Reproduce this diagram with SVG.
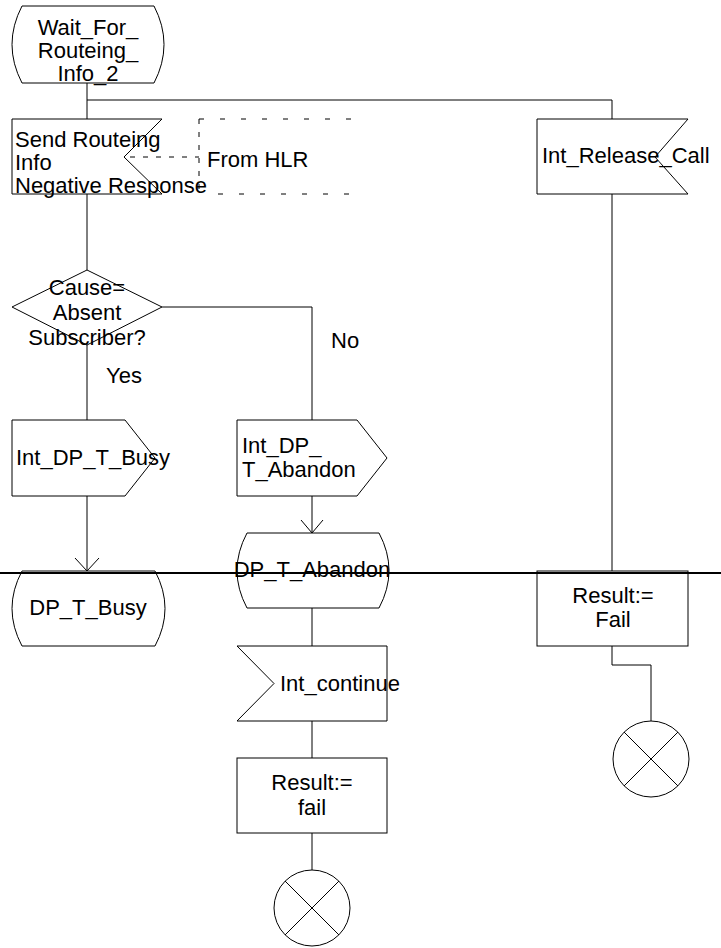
<svg xmlns="http://www.w3.org/2000/svg" width="721" height="948" viewBox="0 0 721 948">
<style>
.s{fill:none;stroke:#000;stroke-width:1}
.d{fill:none;stroke:#000;stroke-width:1;stroke-dasharray:5 16}
.dv{fill:none;stroke:#000;stroke-width:1;stroke-dasharray:5 8}
text{font-family:"Liberation Sans",Arial,sans-serif;font-size:22px;fill:#000}
.c{text-anchor:middle}
</style>
<rect width="721" height="948" fill="#fff"/>
<g id="connectors">
<path class="s" d="M87,83 V119 M87,100 H612 V119 M87,194 V270 M162,307 H312 V420 M87,345 V420 M87,496 V571 M312,496 V533 M312,608 V646 M312,721 V758 M312,833 V870 M612,194 V571 M612,646 V665 H651 V721"/>
<path class="s" d="M75,558 L87,571 L99,558 M301,520 L312,533 L323,520"/>
<path class="d" d="M199,119 H352 M218,194 H352"/>
<path class="dv" d="M199,119 V194 M130,157 H199"/>
<path d="M0,573 H721" stroke="#000" stroke-width="2"/>
</g>
<g id="wait_state">
<path class="s" d="M22,6 H154 Q174,44.5 154,83 H22 Q2,44.5 22,6 Z"/>
<text class="c" x="88" y="35">Wait_For_</text>
<text class="c" x="88" y="58">Routeing_</text>
<text class="c" x="88" y="81">Info_2</text>
</g>
<g id="send_routeing_input">
<path class="s" d="M12,119 H162 L124,157 L162,194 H12 Z"/>
<text x="15" y="147">Send Routeing</text>
<text x="15" y="170">Info</text>
<text x="15" y="193">Negative Response</text>
<text x="207" y="167">From HLR</text>
</g>
<g id="int_release_call">
<path class="s" d="M537,119 H688 L655,157 L688,194 H537 Z"/>
<text x="542" y="163">Int_Release_Call</text>
</g>
<g id="decision">
<path class="s" d="M87,270 L162,307 L87,345 L12,307 Z"/>
<text class="c" x="87" y="295">Cause=</text>
<text class="c" x="87" y="320">Absent</text>
<text class="c" x="87" y="345">Subscriber?</text>
<text x="331" y="348">No</text>
<text x="106" y="383">Yes</text>
</g>
<g id="int_dp_t_busy">
<path class="s" d="M12,420 H125 L155,458 L125,496 H12 Z"/>
<text x="16" y="465">Int_DP_T_Busy</text>
</g>
<g id="int_dp_t_abandon">
<path class="s" d="M237,420 H357 L387,458 L357,496 H237 Z"/>
<text x="242" y="453">Int_DP_</text>
<text x="242" y="477">T_Abandon</text>
</g>
<g id="dp_t_busy">
<path class="s" d="M22,571 H155 Q175,608.5 155,646 H22 Q2,608.5 22,571 Z"/>
<text class="c" x="88" y="615">DP_T_Busy</text>
</g>
<g id="dp_t_abandon">
<path class="s" d="M247,533 H379 Q399,570.5 379,608 H247 Q227,570.5 247,533 Z"/>
<text class="c" x="312" y="577">DP_T_Abandon</text>
</g>
<g id="int_continue">
<path class="s" d="M237,646 H387 V721 H237 L274,683.5 Z"/>
<text x="280" y="691">Int_continue</text>
</g>
<g id="result_fail_left">
<rect class="s" x="237" y="758" width="150" height="75"/>
<text class="c" x="312" y="790">Result:=</text>
<text class="c" x="312" y="815">fail</text>
</g>
<g id="stop_left">
<circle class="s" cx="312" cy="908" r="38"/>
<path class="s" d="M285,881 L339,935 M339,881 L285,935"/>
</g>
<g id="result_fail_right">
<rect class="s" x="537" y="571" width="151" height="75"/>
<text class="c" x="613" y="603">Result:=</text>
<text class="c" x="613" y="627">Fail</text>
</g>
<g id="stop_right">
<circle class="s" cx="651" cy="759" r="38"/>
<path class="s" d="M624,732 L678,786 M678,732 L624,786"/>
</g>
</svg>
